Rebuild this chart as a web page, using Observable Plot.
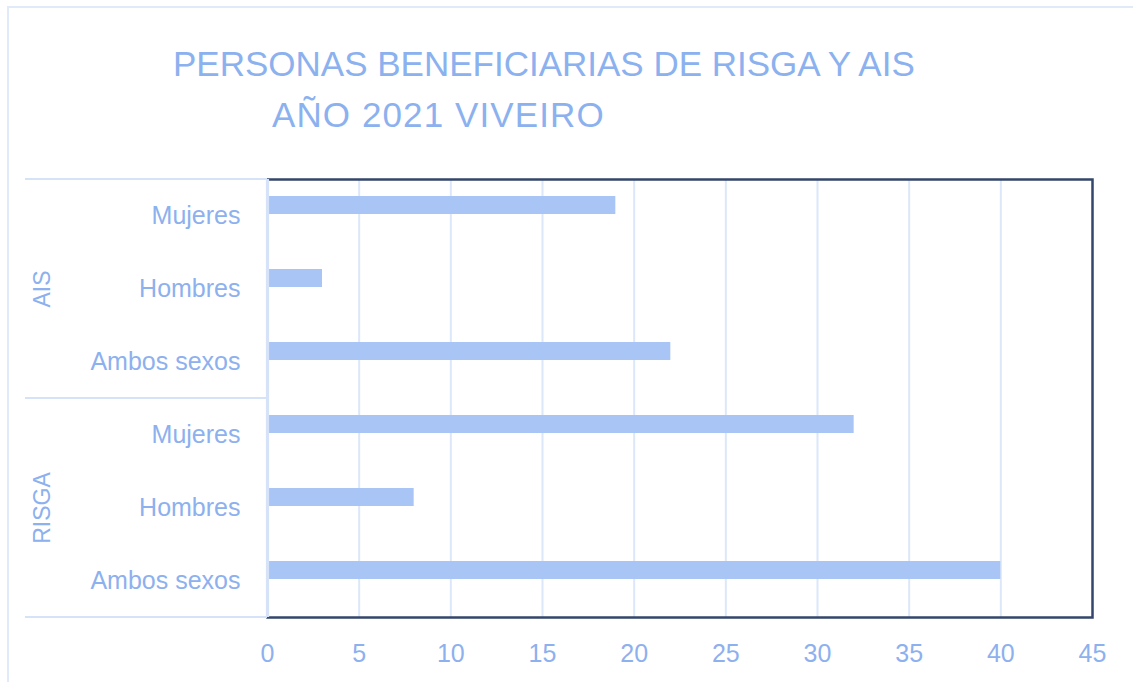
<!DOCTYPE html>
<html>
<head>
<meta charset="utf-8">
<script src="https://cdn.jsdelivr.net/npm/d3@7"></script>
<script src="https://cdn.jsdelivr.net/npm/@observablehq/plot@0.6"></script>
<style>
  html, body { margin: 0; padding: 0; background: #ffffff; }
  #wrap { position: relative; width: 1133px; height: 682px; overflow: hidden; font-family: "Liberation Sans", Arial, sans-serif; }
  #border { position: absolute; left: 7px; top: 6px; right: -10px; bottom: -10px; border-left: 2px solid #e1eaf9; border-top: 2px solid #e1eaf9; pointer-events: none; }
  #title { position: relative; height: 160px; color: #8cb1ef; font-size: 35px; line-height: 35px; }
  #title div { position: absolute; white-space: nowrap; }
  #chart { position: absolute; left: 0; top: 160px; }
</style>
</head>
<body>
<div id="wrap">
  <div id="border"></div>
  <div id="title">
    <div style="left:173px; top:46px;">PERSONAS BENEFICIARIAS DE RISGA Y AIS</div>
    <div style="left:272px; top:97px; letter-spacing:1.1px;">AÑO 2021 VIVEIRO</div>
  </div>
  <div id="chart"></div>
</div>
<script>
const programs = ["AIS", "RISGA"];
const categories = ["Mujeres", "Hombres", "Ambos sexos"];
const aisValues = [19, 3, 22];
const risgaValues = [32, 8, 40];
const xTicks = [0, 5, 10, 15, 20, 25, 30, 35, 40, 45];

const seriesByProgram = { AIS: aisValues, RISGA: risgaValues };
const data = programs.flatMap(p => categories.map((c, i) => ({
  program: p, sex: c, key: p + "|" + c, value: seriesByProgram[p][i]
})));

const labelColor = "#8db0ee";

const plot = Plot.plot({
  width: 1133,
  height: 522,
  marginLeft: 267,
  marginRight: 41,
  marginTop: 19,
  marginBottom: 65,
  style: { fontFamily: "'Liberation Sans', Arial, sans-serif", fontSize: "25px", color: labelColor, background: "transparent", overflow: "visible" },
  x: { domain: [0, 45], ticks: xTicks, tickSize: 0, tickPadding: 27, label: null },
  y: { domain: data.map(d => d.key), padding: 0, tickSize: 0, tickPadding: 27, tickFormat: k => k.split("|")[1], label: null },
  marks: [
    Plot.ruleX(xTicks.filter(t => t > 0 && t < 45), { stroke: "#dce7f9", strokeWidth: 2 }),
    Plot.barX(data, { x: "value", y: "key", fill: "#a9c5f5", insetTop: 17, insetBottom: 38 }),
    Plot.frame({ stroke: "#34466b", strokeWidth: 2.5 }),
    Plot.ruleX([0], { stroke: "#d5e2f8", strokeWidth: 3.2 }),
    Plot.text(programs, { y: p => p + "|Hombres", text: p => p, frameAnchor: "left", textAnchor: "middle", dx: -225, rotate: -90, fontSize: 23, fill: labelColor })
  ]
});

document.getElementById("chart").appendChild(plot);

// group separator lines in the left label area, placed with the plot's own scales
const ys = plot.scale("y");
const xs = plot.scale("x");
const x0 = xs.apply(0);
const bw = ys.bandwidth;
const groupStarts = programs.map(p => ys.apply(p + "|" + categories[0]));
const lastKey = data[data.length - 1].key;
const seps = [...groupStarts, ys.apply(lastKey) + bw];
d3.select(plot).append("g")
  .selectAll("line").data(seps).join("line")
  .attr("x1", x0 - 242).attr("x2", x0)
  .attr("y1", d => d).attr("y2", d => d)
  .attr("stroke", "#d5e2f8").attr("stroke-width", 2);
</script>
</body>
</html>
